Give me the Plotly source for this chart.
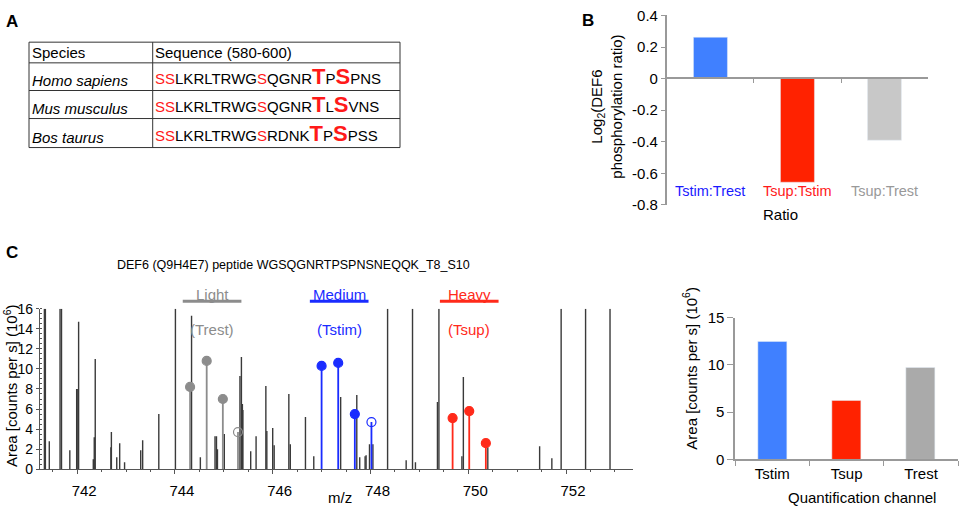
import numpy as np
import plotly.graph_objects as go

W, H = 961, 513
FONT = "Liberation Sans, Arial, sans-serif"

# ---------------- panel A: sequence conservation table ----------------
table_header = ["Species", "Sequence (580-600)"]
species = ["Homo sapiens", "Mus musculus", "Bos taurus"]
sequences = ["SSLKRLTRWGSQGNRTPSPNS", "SSLKRLTRWGSQGNRTLSVNS", "SSLKRLTRWGSRDNKTPSPSS"]
red_sites = [0, 1, 10]        # other phospho sites (red)
main_sites = [15, 17]         # T and S of this peptide (large red)

# ---------------- panel B: log2 ratios ----------------
ratio_names = ["Tstim:Trest", "Tsup:Tstim", "Tsup:Trest"]
ratio_log2 = [0.263, -0.66, -0.394]
ratio_bar_colors = ["#4080ff", "#ff2200", "#c8c8c8"]
ratio_text_colors = ["#1a1aff", "#ff1a1a", "#999999"]
b_ticks = [-0.8, -0.6, -0.4, -0.2, 0, 0.2, 0.4]
b_ticktext = ["-0.8", "-0.6", "-0.4", "-0.2", "0", "0.2", "0.4"]

# ---------------- panel C: MS1 spectrum ----------------
spec_mz = [741.33, 741.35, 741.43, 741.65, 741.68, 741.85, 741.99, 742.00, 742.03,
           742.33, 742.35, 742.37, 742.69, 742.70, 742.81, 742.87, 742.97, 743.30,
           743.34, 743.67, 744.01, 744.34, 744.52, 744.82, 744.85, 744.87, 745.01,
           745.33, 745.36, 745.38, 745.39, 745.55, 745.66, 745.86, 745.88, 746.00,
           746.03, 746.33, 746.36, 746.67, 746.84, 747.39, 747.72, 747.78, 747.89,
           747.91, 747.98, 748.05, 748.35, 748.73, 748.86, 748.92, 749.37, 749.40,
           749.87, 749.90, 750.40, 751.46, 751.71, 751.90, 752.40, 752.90]
spec_int = [16, 16, 2.8, 16, 16, 1.9, 8.0, 8.0, 14.7,
            1.0, 3.2, 11.0, 2.2, 3.7, 1.2, 2.6, 0.7, 1.9,
            2.9, 5.5, 16, 15.3, 1.2, 3.3, 3.3, 2.0, 3.5,
            9.3, 11.2, 6.5, 5.9, 1.8, 3.3, 8.3, 3.8, 4.1,
            2.4, 7.5, 2.5, 5.2, 1.3, 7.2, 7.4, 1.2, 1.3,
            1.4, 2.5, 2.5, 16, 0.9, 16, 0.7, 6.7, 16,
            1.3, 9.2, 2.2, 2.3, 1.1, 16, 16, 16]

channels = ["Light", "Medium", "Heavy"]
channel_tags = ["(Trest)", "(Tstim)", "(Tsup)"]
channel_colors = ["#8c8c8c", "#1a2cff", "#ff2a1a"]
channel_center = [744.76, 747.36, 750.02]
iso_mz = [[744.31, 744.65, 744.98, 745.29],
          [747.00, 747.34, 747.68, 748.02],
          [749.68, 750.02, 750.36]]
iso_int = [[8.2, 10.8, 7.0, 3.7],
           [10.3, 10.6, 5.5, 4.7],
           [5.1, 5.8, 2.6]]
iso_used = [[True, True, True, False],
            [True, True, True, False],
            [True, True, True]]

# ---------------- panel C: quantification ----------------
quant_channels = ["Tstim", "Tsup", "Trest"]
quant_area = [12.47, 6.19, 9.67]
quant_colors = ["#4080ff", "#ff2200", "#aaaaaa"]


def px(x):
    return x / W


def py(y):
    return 1 - y / H


fig = go.Figure()

# B bars
fig.add_trace(go.Bar(x=ratio_names, y=ratio_log2, marker_color=ratio_bar_colors,
                     width=0.39, xaxis="x", yaxis="y", hoverinfo="x+y"))

# C spectrum sticks
sx, sy = [], []
for m, h in zip(spec_mz, spec_int):
    sx += [m, m, None]
    sy += [0, h, None]
fig.add_trace(go.Scatter(x=sx, y=sy, mode="lines", line=dict(color="#3a3a3a", width=1.4),
                         xaxis="x2", yaxis="y2", hoverinfo="skip"))

# C isotope clusters
for name, col, mzs, ints, used in zip(channels, channel_colors, iso_mz, iso_int, iso_used):
    stx, sty = [], []
    for m, h in zip(mzs, ints):
        stx += [m, m, None]
        sty += [0, h, None]
    fig.add_trace(go.Scatter(x=stx, y=sty, mode="lines", line=dict(color=col, width=1.8),
                             xaxis="x2", yaxis="y2", hoverinfo="skip"))
    fig.add_trace(go.Scatter(
        x=mzs, y=ints, mode="markers", name=name, xaxis="x2", yaxis="y2",
        marker=dict(size=9, color=col,
                    symbol=["circle" if u else "circle-open" for u in used],
                    line=dict(color=col, width=1.2)),
    ))

# C quantification bars
fig.add_trace(go.Bar(x=quant_channels, y=quant_area, marker_color=quant_colors,
                     width=0.39, xaxis="x3", yaxis="y3"))

annotations = []
shapes = []


def note(text, x, y, xref="paper", yref="paper", size=15, color="black", **kw):
    d = dict(text=text, x=x, y=y, xref=xref, yref=yref, showarrow=False, borderpad=0,
             xanchor="center", yanchor="middle", font=dict(size=size, color=color))
    d.update(kw)
    annotations.append(d)


# panel letters
for letter, (lx, ly) in zip("ABC", [(12, 12.5), (587.5, 11.7), (12, 252)]):
    note(f"<b>{letter}</b>", px(lx), py(ly), size=17)

# ---- table A ----
t_left, t_right, t_col = 29, 400, 152.7
t_rows = [34.3, 55.7, 84.3, 113.3, 143.3]
line_style = dict(color="#333333", width=1)
shapes.append(dict(type="rect", xref="paper", yref="paper", x0=px(t_left), x1=px(t_right),
                   y0=py(t_rows[0]), y1=py(t_rows[-1]), line=line_style))
shapes.append(dict(type="line", xref="paper", yref="paper", x0=px(t_col), x1=px(t_col),
                   y0=py(t_rows[0]), y1=py(t_rows[-1]), line=line_style))
for r in t_rows[1:-1]:
    shapes.append(dict(type="line", xref="paper", yref="paper", x0=px(t_left), x1=px(t_right),
                       y0=py(r), y1=py(r), line=line_style))


def seq_html(s):
    out = []
    for i, ch in enumerate(s):
        if i in main_sites:
            out.append(f"<span style='color:#ff1a1a;font-size:22px'><b>{ch}</b></span>")
        elif i in red_sites:
            out.append(f"<span style='color:#ff1a1a'>{ch}</span>")
        else:
            out.append(ch)
    return "".join(out)


col1 = [table_header[0]] + [f"<i>{s}</i>" for s in species]
col2 = [table_header[1]] + [seq_html(s) for s in sequences]
for k in range(4):
    ybot = py(t_rows[k + 1] - 1)
    note(col1[k], px(31), ybot, xanchor="left", yanchor="bottom")
    note(col2[k], px(154), ybot, xanchor="left", yanchor="bottom")

# ---- panel B labels ----
for name, col in zip(ratio_names, ratio_text_colors):
    note(name, name, -0.714, xref="x", yref="y", size=14.5, color=col)
note("Ratio", px(780), py(213))
note("Log<sub>2</sub>(DEF6<br>phosphorylation ratio)", px(607), py(101), textangle=-90)

# ---- panel C labels ----
note("DEF6 (Q9H4E7) peptide WGSQGNRTPSPNSNEQQK_T8_S10", px(293), py(265), size=12.5)
bar_y = py(302.3)
for name, tag, col, c in zip(channels, channel_tags, channel_colors, channel_center):
    note(name, c, py(305.5), xref="x2", color=col, yanchor="bottom")
    note(tag, c, py(332), xref="x2", color=col)
    shapes.append(dict(type="line", xref="x2", yref="paper", x0=c - 0.6, x1=c + 0.6, y0=bar_y, y1=bar_y,
                       line=dict(color=col, width=3)))
note("Area [counts per s] (10<sup>6</sup>)", px(10), py(390), textangle=-90)
note("m/z", px(340), py(505))
note("Area [counts per s] (10<sup>6</sup>)", px(690), py(372), textangle=-90)
note("Quantification channel", px(862), py(505))

grey_axis = "#999999"
fig.update_layout(
    width=W, height=H, autosize=False,
    margin=dict(l=0, r=0, t=0, b=0),
    paper_bgcolor="white", plot_bgcolor="white",
    font=dict(family=FONT, size=15, color="black"),
    showlegend=False, bargap=0,
    annotations=annotations, shapes=shapes,
    # panel B
    xaxis=dict(domain=[px(666.7), px(928.3)], anchor="free", position=py(71.7), type="category",
               tickson="boundaries", ticks="outside", ticklen=4, tickcolor=grey_axis,
               showticklabels=False, showline=True, linecolor=grey_axis, linewidth=1.5,
               showgrid=False, zeroline=False),
    yaxis=dict(domain=[py(202.7), py(6.7)], range=[-0.8, 0.4], anchor="x",
               tickvals=b_ticks, ticktext=b_ticktext, ticks="outside", ticklen=4, tickcolor=grey_axis,
               showline=True, linecolor=grey_axis, linewidth=1.5, showgrid=False, zeroline=False,
               tickfont=dict(size=15)),
    # panel C spectrum
    xaxis2=dict(domain=[px(40), px(633)], range=[741.24, 753.37], anchor="y2",
                tickvals=list(range(742, 753, 2)), ticks="outside", ticklen=4, tickcolor="#555555",
                minor=dict(dtick=0.5, ticks="outside", ticklen=2, tickcolor="#555555"),
                ticklabelshift=7, ticklabelstandoff=4,
                showline=True, linecolor="#555555", linewidth=1.2, showgrid=False, zeroline=False,
                tickfont=dict(size=15)),
    yaxis2=dict(domain=[py(476), py(310)], range=[0, 16], anchor="x2", dtick=2,
                ticks="outside", ticklen=3, tickcolor="#555555",
                minor=dict(dtick=0.5, ticks="inside", ticklen=2, tickcolor="#555555"),
                showline=True, linecolor="#555555", linewidth=1.2, showgrid=False, zeroline=False,
                tickfont=dict(size=14)),
    # panel C quantification
    xaxis3=dict(domain=[px(735.1), px(958.2)], anchor="y3", type="category",
                tickson="boundaries", ticks="outside", ticklen=5, tickcolor=grey_axis,
                showline=True, linecolor=grey_axis, linewidth=1.5, showgrid=False, zeroline=False,
                tickfont=dict(size=15)),
    yaxis3=dict(domain=[py(465.7), py(319.3)], range=[0, 15], anchor="x3", dtick=5,
                ticks="outside", ticklen=6, tickcolor=grey_axis,
                showline=True, linecolor=grey_axis, linewidth=1.5, showgrid=False, zeroline=False,
                tickfont=dict(size=15)),
)

fig.write_html("out.html", config={"displayModeBar": False},
               post_script="document.body.style.margin='0';")
